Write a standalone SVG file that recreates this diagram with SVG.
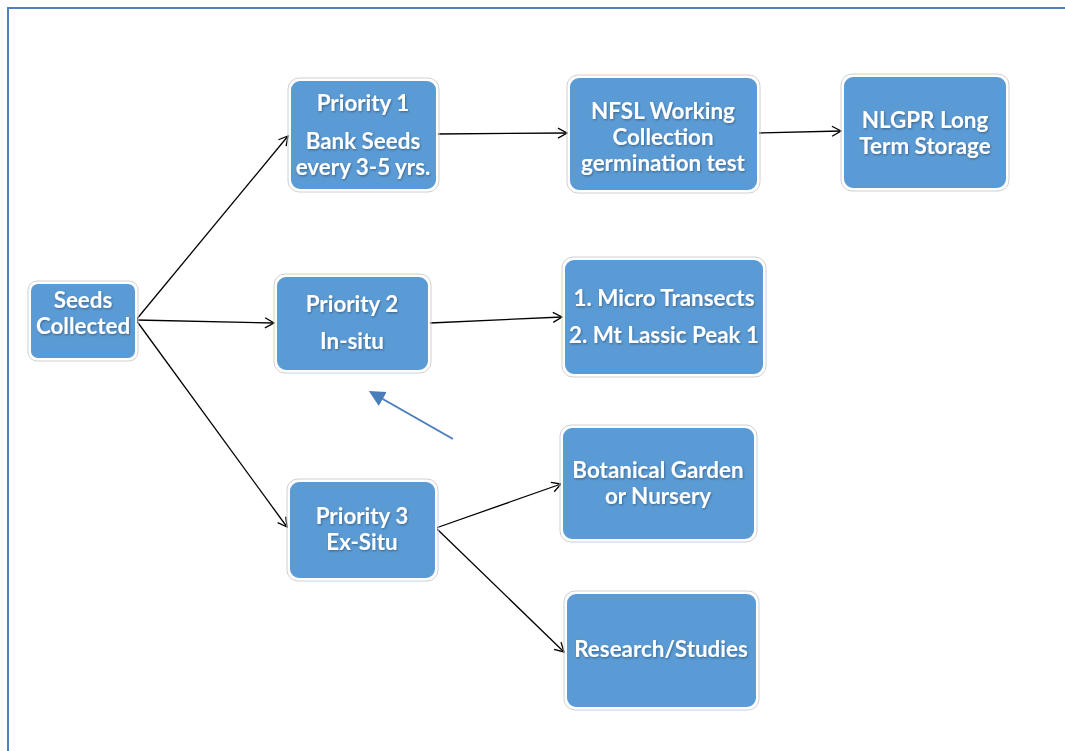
<svg xmlns="http://www.w3.org/2000/svg" width="1065" height="751" viewBox="0 0 1065 751">
<defs>
<marker id="open" markerWidth="12" markerHeight="12" refX="10" refY="6" orient="auto" markerUnits="userSpaceOnUse">
<path d="M1,1 L10,6 L1,11" fill="none" stroke="#000" stroke-width="1.3"/>
</marker>
<marker id="tri" markerWidth="20" markerHeight="20" refX="2" refY="8" orient="auto" markerUnits="userSpaceOnUse">
<path d="M0,0 L16,8 L0,16 Z" fill="#4A7EBB"/>
</marker>
<filter id="sh" x="-10%" y="-10%" width="120%" height="130%">
<feDropShadow dx="0.8" dy="1.2" stdDeviation="0.8" flood-color="#000" flood-opacity="0.35"/>
</filter>
</defs>
<style>
.box{fill:#5B9BD5;stroke:#fff;stroke-width:2}
.out{fill:none;stroke:#d0d0d0;stroke-width:1}
text{font-family:Lato,"Liberation Sans",sans-serif;font-weight:bold;font-size:22.4px;fill:#fff;text-anchor:middle;filter:url(#sh)}
.c{fill:none;stroke:#000;stroke-width:1.3;marker-end:url(#open)}
</style>
<rect width="1065" height="751" fill="#fff"/>
<path d="M8,751 L8,8 L1065,8" fill="none" stroke="#4F81BD" stroke-width="2"/>

<g id="connectors">
<line class="c" x1="136" y1="320" x2="288" y2="136"/>
<line class="c" x1="136" y1="320" x2="274" y2="323"/>
<line class="c" x1="136" y1="320" x2="287" y2="527"/>
<line class="c" x1="437" y1="134" x2="567" y2="133"/>
<line class="c" x1="758" y1="133" x2="841" y2="131"/>
<line class="c" x1="430" y1="323" x2="562" y2="317"/>
<line class="c" x1="436" y1="528" x2="561" y2="484"/>
<line class="c" x1="436" y1="528" x2="564" y2="652"/>
<line x1="453" y1="439" x2="381" y2="398" stroke="#4A7EBB" stroke-width="2" marker-end="url(#tri)"/>
</g>

<g id="seeds">
<rect class="out" x="28" y="281" width="110" height="80" rx="9"/>
<rect class="box" x="30" y="283" width="106" height="76" rx="8"/>
<text x="83" y="308">Seeds</text>
<text x="83" y="334">Collected</text>
</g>
<g id="p1">
<rect class="out" x="288" y="78" width="151" height="114" rx="11"/>
<rect class="box" x="290" y="80" width="147" height="110" rx="10"/>
<text x="363" y="111">Priority 1</text>
<text x="363" y="149">Bank Seeds</text>
<text x="363" y="175">every 3-5 yrs.</text>
</g>
<g id="nfsl">
<rect class="out" x="567" y="75" width="193" height="118" rx="11"/>
<rect class="box" x="569" y="77" width="189" height="114" rx="10"/>
<text x="663" y="119">NFSL Working</text>
<text x="663" y="145">Collection</text>
<text x="663" y="171">germination test</text>
</g>
<g id="nlgpr">
<rect class="out" x="841" y="74" width="168" height="117" rx="11"/>
<rect class="box" x="843" y="76" width="164" height="113" rx="10"/>
<text x="925" y="128">NLGPR Long</text>
<text x="925" y="154">Term Storage</text>
</g>
<g id="p2">
<rect class="out" x="274" y="274" width="157" height="99" rx="11"/>
<rect class="box" x="276" y="276" width="153" height="95" rx="10"/>
<text x="352" y="312">Priority 2</text>
<text x="352" y="349">In-situ</text>
</g>
<g id="micro">
<rect class="out" x="562" y="257" width="204" height="120" rx="11"/>
<rect class="box" x="564" y="259" width="200" height="116" rx="10"/>
<text x="664" y="306">1. Micro Transects</text>
<text x="664" y="343">2. Mt Lassic Peak 1</text>
</g>
<g id="p3">
<rect class="out" x="287" y="479" width="151" height="102" rx="11"/>
<rect class="box" x="289" y="481" width="147" height="98" rx="10"/>
<text x="362" y="524">Priority 3</text>
<text x="362" y="550">Ex-Situ</text>
</g>
<g id="botanical">
<rect class="out" x="560" y="425" width="197" height="117" rx="11"/>
<rect class="box" x="562" y="427" width="193" height="113" rx="10"/>
<text x="658" y="478">Botanical Garden</text>
<text x="658" y="504">or Nursery</text>
</g>
<g id="research">
<rect class="out" x="564" y="591" width="195" height="119" rx="11"/>
<rect class="box" x="566" y="593" width="191" height="115" rx="10"/>
<text x="661" y="657">Research/Studies</text>
</g>
</svg>
